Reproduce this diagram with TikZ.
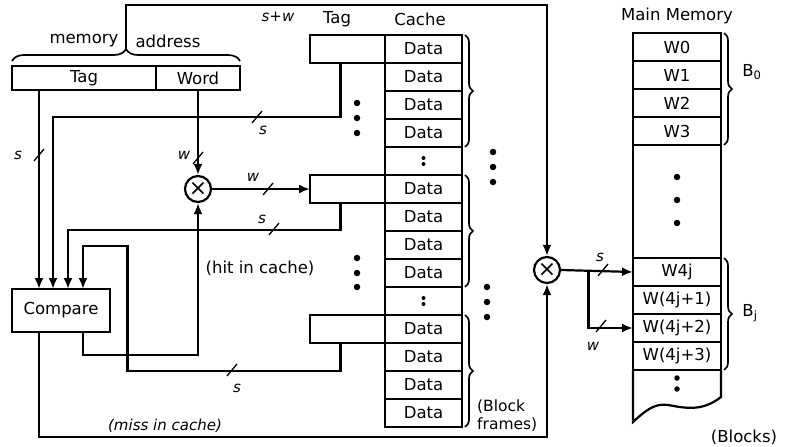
\documentclass[tikz,border=0pt]{standalone}
\usepackage{fontspec}
\setmainfont{DejaVu Sans}
\usepackage{tikz}
\usetikzlibrary{arrows.meta,positioning,decorations.pathreplacing,calc}

\tikzset{bustick/.pic={\draw[line width=1.3pt] (-5,6) -- (5,-6);}}

\begin{document}
\begin{tikzpicture}[x=1pt, y=-1pt,
    every node/.style={font=\fontsize{16.5}{19}\selectfont},
    cell/.style={rectangle, draw, line width=2.2pt, outer sep=0pt, inner sep=0pt, minimum width=77pt, minimum height=28pt},
    tagbox/.style={cell, minimum width=75pt},
    memcell/.style={cell, minimum width=88pt},
    field/.style={cell, minimum height=24pt},
    mux/.style={circle, draw, line width=2.2pt, inner sep=0pt, minimum size=26pt, font=\fontsize{22}{22}\selectfont},
    wire/.style={line width=2.2pt},
    arr/.style={-{Latex[length=11pt,width=9pt]}, line width=2.2pt},
    brc/.style={decorate, decoration={brace, amplitude=#1}, line width=1.7pt},
    bigdot/.style={circle, fill, inner sep=0pt, minimum size=6.5pt},
    lbl/.style={font=\fontsize{15}{17}\selectfont\itshape},
  ]
    \useasboundingbox (0,0) rectangle (793,447);

    % Memory address
    \node[field, minimum width=144pt] (tagf) at (84,78) {Tag};
    \node[field, minimum width=84pt, right=0pt of tagf] (wordf) {Word};
    \draw[brc=12pt] ([yshift=5pt]tagf.north west) -- ([yshift=5pt]wordf.north east);
    \coordinate (addrtip) at ($([yshift=17pt]tagf.north west)!0.5!([yshift=17pt]wordf.north east)$);
    \node[anchor=east] (lblmem) at ([xshift=-4pt,yshift=8pt]addrtip) {memory};
    \node[anchor=west] (lbladdr) at ([xshift=6pt,yshift=8pt]addrtip) {address};

    % Compare unit and word selector
    \node[cell, minimum width=98pt, minimum height=43pt] (cmp) at (61,310.5) {Compare};
    \node[mux] (muxw) at (198,189) {×};
    \node[mux] (muxm) at (547,270) {×};

    % Cache
    \foreach \k in {0,1,2,3,5,6,7,8,10,11,12,13}
      \node[cell] (d\k) at (423.5,{49+28*\k}) {Data};
    \foreach \k in {4,9} {
      \node[cell] (d\k) at (423.5,{49+28*\k}) {};
      \fill ([yshift=3pt]d\k.center) circle (2pt) ([yshift=-3pt]d\k.center) circle (2pt);
    }
    \node[tagbox, left=0pt of d0] (tagA) {};
    \node[tagbox, left=0pt of d5] (tagB) {};
    \node[tagbox, left=0pt of d10] (tagC) {};
    \draw[brc=8pt] ([xshift=3pt]d0.north east) -- ([xshift=3pt]d3.south east);
    \draw[brc=8pt] ([xshift=3pt]d5.north east) -- ([xshift=3pt]d8.south east);
    \draw[brc=8pt] ([xshift=3pt]d10.north east) -- ([xshift=3pt]d13.south east);
    \node (lbltag) at (337,19) {Tag};
    \node (lblcache) at (420,19) {Cache};
    \node[lbl] (lblsw) at (278,17) {s+w};
    \node[anchor=west, align=left, inner sep=0pt, font=\fontsize{15.5}{18}\selectfont] (lblframes) at (477,416) {(Block\\frames)};

    % Dots
    \foreach \y in {103,118,133,258,273,287} \node[bigdot] at (357,\y) {};
    \foreach \y in {152,167,182} \node[bigdot] at (493,\y) {};
    \foreach \y in {287,302,317} \node[bigdot] at (487,\y) {};

    % Main memory
    \node (lblmain) at (677,16) {Main Memory};
    \foreach \k/\t in {0/W0,1/W1,2/W2,3/W3}
      \node[memcell] (mw\k) at (677,{47+28*\k}) {\t};
    \foreach \k/\t in {0/W4j,1/W(4j+1),2/W(4j+2),3/W(4j+3)}
      \node[memcell] (mj\k) at (677,{272+28*\k}) {\t};
    \draw[wire] (mw3.south west) -- (mj0.north west) (mw3.south east) -- (mj0.north east);
    \draw[wire] (mj3.south west) -- (633,422) .. controls (646,410) and (655,403) .. (668,405)
      .. controls (685,408) and (702,412) .. (721,397) -- (mj3.south east);
    \foreach \y in {177,200,223} \node[bigdot] at (677,\y) {};
    \foreach \y in {378,389} \node[bigdot, minimum size=5.5pt] at (677,\y) {};
    \draw[brc=8pt] ([xshift=3pt]mw0.north east) -- ([xshift=3pt]mw3.south east);
    \draw[brc=8pt] ([xshift=3pt]mj0.north east) -- ([xshift=3pt]mj3.south east);
    \node (lblb0) at (752,72) {B\textsubscript{0}};
    \node (lblbj) at (750,313) {B\textsubscript{j}};
    \node (lblblocks) at (744,437) {(Blocks)};

    % Tag comparisons
    \draw[arr] ([xshift=27pt]tagf.south west) -- ([xshift=27pt]cmp.north west);
    \draw[arr] ([xshift=-7pt]tagA.south) -- ++(0,54) -| ([xshift=41pt]cmp.north west);
    \draw[arr] ([xshift=-7pt]tagB.south) -- ++(0,27) -| ([xshift=56pt]cmp.north west);
    \draw[arr] ([xshift=-7pt]tagC.south) -- ++(0,28) -- ++(-213,0) -- ++(0,-125) -| ([xshift=71pt]cmp.north west);

    % Word select
    \draw[arr] (wordf.south) -- (muxw.north);
    \draw[arr] (muxw.east) -- (tagB.west);
    \draw[arr] ([xshift=71pt]cmp.south west) -- ++(0,23) -| (muxw.south);
    \node (lblhit) at (260,268) {(hit in cache)};

    % Miss path to main memory
    \draw[arr] ([xshift=27pt]cmp.south west) -- ++(0,105) -| (muxm.south);
    \node[lbl] (lblmiss) at (165,426) {(miss in cache)};
    \draw[arr] (addrtip) -- ++(0,-44) -| (muxm.north);
    \draw[arr] (muxm.east) -- coordinate[pos=0.38] (br) (mj0.west);
    \draw[arr] (br) |- (mj2.west);

    % Bus widths
    \pic at (39,155) {bustick};
    \node[lbl] (lbls1) at (18,155) {s};
    \pic at (198,158) {bustick};
    \node[lbl] (lblw1) at (184,155) {w};
    \pic at (257,117) {bustick};
    \node[lbl] (lbls2) at (263,130) {s};
    \pic at (274,229) {bustick};
    \node[lbl] (lbls3) at (262,219) {s};
    \pic at (268,189) {bustick};
    \node[lbl] (lblw2) at (253,177) {w};
    \pic at (232,370) {bustick};
    \node[lbl] (lbls4) at (237,388) {s};
    \pic at (603,270) {bustick};
    \node[lbl] (lbls5) at (600,257) {s};
    \pic at (601,326) {bustick};
    \node[lbl] (lblw3) at (593,346) {w};
\end{tikzpicture}
\end{document}
